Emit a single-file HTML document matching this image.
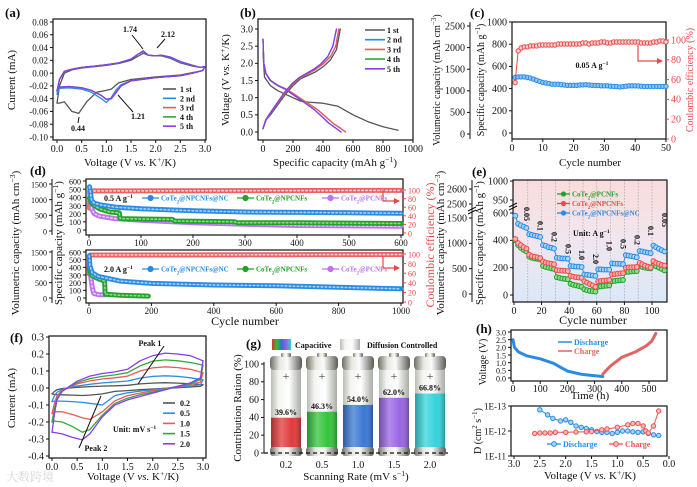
<!DOCTYPE html>
<html><head><meta charset="utf-8">
<style>
body{margin:0;background:#fff}
svg{display:block;font-family:"Liberation Serif","Noto Serif CJK SC",serif}
</style></head>
<body>
<svg id="fig" width="697" height="487" viewBox="0 0 697 487" xmlns="http://www.w3.org/2000/svg">
<defs>
<linearGradient id="eBg" x1="0" y1="0" x2="0" y2="1"><stop offset="0" stop-color="#f9dcdc"/><stop offset="0.5" stop-color="#f1e6ef"/><stop offset="1" stop-color="#dbe8f7"/></linearGradient>
<linearGradient id="glass" x1="0" y1="0" x2="1" y2="0"><stop offset="0" stop-color="#b9bcb5"/><stop offset="0.25" stop-color="#f4f4f2"/><stop offset="0.6" stop-color="#ffffff"/><stop offset="1" stop-color="#a9aca6"/></linearGradient>
<linearGradient id="metal" x1="0" y1="0" x2="1" y2="0"><stop offset="0" stop-color="#6e6e66"/><stop offset="0.3" stop-color="#e8e8e0"/><stop offset="0.55" stop-color="#fafafa"/><stop offset="1" stop-color="#5c5c55"/></linearGradient>
<linearGradient id="rainbow" x1="0" y1="0" x2="1" y2="0"><stop offset="0" stop-color="#e03030"/><stop offset="0.25" stop-color="#30c030"/><stop offset="0.5" stop-color="#3070d0"/><stop offset="0.75" stop-color="#9a60e0"/><stop offset="1" stop-color="#30d0d8"/></linearGradient>
<linearGradient id="shade" x1="0" y1="0" x2="1" y2="0"><stop offset="0" stop-color="#000" stop-opacity="0.25"/><stop offset="0.35" stop-color="#fff" stop-opacity="0.25"/><stop offset="0.7" stop-color="#fff" stop-opacity="0"/><stop offset="1" stop-color="#000" stop-opacity="0.3"/></linearGradient>
<marker id="arr" viewBox="0 0 6 6" refX="5" refY="3" markerWidth="5" markerHeight="5" orient="auto"><path d="M0 0L6 3L0 6z" fill="#e84848"/></marker>
</defs>
</svg>
<script>
// ---------- data ----------
const aUpV=[0,0.05,0.15,0.3,0.5,0.75,1.0,1.25,1.5,1.65,1.75,1.85,2.0,2.12,2.3,2.5,2.75,2.9,3.0];
const aLowV=[3.0,2.95,2.75,2.5,2.0,1.5,1.3,1.2,1.1,1.0,0.9,0.7,0.5,0.25,0.05,0];
const a1LowV=[3.0,2.95,2.5,2.0,1.5,1.25,1.1,1.0,0.8,0.6,0.44,0.3,0.15,0.05,0];
const a1Up=[-0.047,-0.02,0.0,0.005,0.008,0.01,0.012,0.015,0.02,0.027,0.031,0.028,0.027,0.027,0.023,0.016,0.011,0.009,0.01];
const a1Low=[0.01,0.004,-0.003,-0.006,-0.01,-0.015,-0.025,-0.027,-0.03,-0.045,-0.063,-0.06,-0.045,-0.047,-0.047];
const a2Up=[-0.033,-0.01,0.003,0.006,0.009,0.011,0.013,0.016,0.022,0.03,0.035,0.028,0.027,0.028,0.024,0.017,0.012,0.009,0.01];
const a2Low=[0.01,0.004,0.0,-0.004,-0.007,-0.012,-0.018,-0.026,-0.038,-0.046,-0.04,-0.03,-0.025,-0.023,-0.024,-0.033];
const a3Up=[-0.028,-0.01,0.003,0.006,0.009,0.011,0.013,0.016,0.022,0.03,0.034,0.028,0.027,0.028,0.025,0.018,0.012,0.009,0.01];
const a3Low=[0.01,0.004,0.0,-0.004,-0.007,-0.012,-0.02,-0.03,-0.04,-0.041,-0.035,-0.027,-0.023,-0.021,-0.022,-0.027];
const aNames=['1 st','2 nd','3 rd','4 th','5 th'];
const aColors=['#555555','#2a8be6','#e85a5a','#33a83a','#8a3cf0'];
const bDisVolt=[2.7,2.0,1.7,1.5,1.35,1.25,1.1,0.95,0.8,0.65,0.45,0.25,0.1,0.0];
const b2DisCap=[0,5,20,52,104,156,208,260,312,364,416,468,520,550];
const b5DisCap=[0,5,19,48,98,148,196,245,294,343,392,441,490,520];
const bChVolt=[0.1,0.35,0.55,0.85,1.15,1.4,1.58,1.7,1.82,1.98,2.2,2.5,3.0];
const b2ChCap=[0,20,50,100,150,200,250,300,350,400,450,485,505];
const b5ChCap=[0,18,47,95,143,192,240,288,336,385,432,465,490];
const b1DisCap=[0,10,50,100,200,250,300,400,500,600,700,800,900];
const b1DisVolt=[2.3,1.6,1.35,1.2,1.0,0.9,0.87,0.84,0.75,0.5,0.3,0.15,0.05];
const b1ChCap=[0,20,50,100,150,200,250,300,350,400,450,490,515];
const b1ChVolt=[0.1,0.35,0.5,0.8,1.1,1.35,1.55,1.65,1.75,1.9,2.1,2.4,3.0];
const cCycles=[1,2,3,4,5,6,7,8,9,10,11,12,13,14,15,16,17,18,19,20,21,22,23,24,25,26,27,28,29,30,31,32,33,34,35,36,37,38,39,40,41,42,43,44,45,46,47,48,49,50];
const cCap=[500,505,505,505,500,495,485,475,465,455,450,445,440,440,440,435,432,430,430,430,430,432,433,435,432,430,428,428,425,425,425,422,420,418,415,418,422,425,425,425,423,422,420,420,420,420,420,420,420,420];
const cCE=[57,89,92,93,93,94,94,94,95,95,95,95,95,95,96,96,96,96,96,96,96,96,97,97,96,97,97,97,98,98,97,97,98,98,98,98,98,98,98,98,98,97,97,97,97,98,98,99,99,98];
const d1BlueCyc=[1,2,5,10,20,50,100,200,300,400,500,600];
const d1Blue=[530,500,360,330,310,280,260,235,220,215,210,205];
const d1GreenCyc=[1,5,10,20,40,58,60,100,160,165,280,285,400,600];
const d1Green=[390,330,300,260,220,210,140,135,130,110,100,90,90,80];
const d1PurpleCyc=[1,5,10,20,50,100,200,300,400,600];
const d1Purple=[470,260,200,170,140,120,90,70,55,45];
const d1CECyc=[1,2,5,600];
const d1CE=[58,93,98,99];
const d2BlueCyc=[1,3,10,30,100,200,400,600,800,1000];
const d2Blue=[550,420,330,280,220,190,170,160,140,120];
const d2GreenCyc=[1,5,10,30,50,52,100,190];
const d2Green=[390,320,290,250,220,50,35,25];
const d2PurpleCyc=[1,10,15,30,50];
const d2Purple=[420,150,60,45,40];
const d2CECyc=[1,2,5,1000];
const d2CE=[58,93,98,99];
const eCyc=[1,3,5,7,9,11,13,15,17,19,21,23,25,27,29,31,33,35,37,39,41,43,45,47,49,51,53,55,57,59,61,63,65,67,69,71,73,75,77,79,81,83,85,87,89,91,93,95,97,99,101,103,105,107,109];
const eBlue=[580,520,510,500,490, 445,440,435,430,425, 365,360,350,345,340, 272,270,268,267,265, 212,210,208,207,205, 150,148,145,143,140, 188,187,186,186,185, 232,230,229,228,226, 292,288,284,280,276, 322,318,314,310,306, 362,350,338,328,318];
const eRed=[410,380,365,350,340, 295,285,280,275,270, 245,238,232,228,225, 182,180,178,177,175, 140,135,130,128,125, 100,90,80,70,60, 100,103,105,107,110, 150,153,156,158,160, 200,202,203,204,205, 235,225,215,208,200, 248,235,228,220,215];
const eGreen=[400,365,345,330,320, 280,272,268,264,260, 212,205,200,195,190, 130,125,120,118,115, 82,75,70,65,60, 42,35,30,28,25, 60,63,66,68,70, 100,103,106,108,110, 168,170,172,174,175, 210,205,200,197,195, 222,210,200,190,180];
const eRates=['0.05','0.1','0.2','0.5','1.0','2.0','1.0','0.5','0.2','0.1','0.05'];
const fUpV=[0,0.05,0.1,0.2,0.35,0.5,0.75,1.0,1.25,1.5,1.75,2.0,2.25,2.5,2.75,3.0];
const fLowV=[3.0,2.95,2.75,2.5,2.25,2.0,1.75,1.5,1.25,1.0,0.75,0.6,0.4,0.2,0.05,0.0];
const fRates=['0.2','0.5','1.0','1.5','2.0'];
const fColors=['#555555','#2a8be6','#e85a5a','#33a83a','#8a3cf0'];
const fUp=[
 [-0.035,-0.02,-0.01,-0.003,0.0,0.004,0.008,0.011,0.013,0.016,0.024,0.029,0.031,0.029,0.025,0.02],
 [-0.08,-0.045,-0.025,-0.008,0.003,0.012,0.022,0.03,0.035,0.041,0.058,0.068,0.072,0.068,0.06,0.048],
 [-0.15,-0.09,-0.045,-0.014,0.006,0.024,0.042,0.053,0.06,0.07,0.1,0.118,0.125,0.12,0.11,0.09],
 [-0.2,-0.12,-0.06,-0.018,0.008,0.032,0.055,0.068,0.077,0.09,0.13,0.158,0.165,0.16,0.15,0.135],
 [-0.26,-0.15,-0.07,-0.02,0.01,0.04,0.07,0.085,0.095,0.11,0.16,0.19,0.205,0.2,0.19,0.16]];
const fLow=[
 [0.02,0.01,0.006,0.002,-0.002,-0.006,-0.01,-0.015,-0.02,-0.035,-0.042,-0.044,-0.042,-0.04,-0.038,-0.035],
 [0.048,0.02,0.012,0.005,-0.002,-0.01,-0.018,-0.028,-0.045,-0.1,-0.09,-0.085,-0.08,-0.077,-0.077,-0.08],
 [0.09,0.035,0.02,0.008,-0.004,-0.016,-0.03,-0.045,-0.075,-0.14,-0.185,-0.175,-0.155,-0.14,-0.14,-0.15],
 [0.135,0.05,0.025,0.01,-0.006,-0.024,-0.04,-0.06,-0.09,-0.16,-0.245,-0.26,-0.225,-0.2,-0.195,-0.2],
 [0.16,0.06,0.03,0.01,-0.01,-0.03,-0.05,-0.07,-0.1,-0.17,-0.27,-0.305,-0.29,-0.27,-0.262,-0.26]];
const gRates=['0.2','0.5','1.0','1.5','2.0'];
const gCap=[39.6,46.3,54.0,62.0,66.8];
const gColors=['#e23a3a','#34c43a','#3a78d4','#9a64e4','#34d4dc'];
const hDisT=[0,5,20,50,100,150,175,200,250,300,330];
const hDisV=[2.5,2.0,1.7,1.45,1.25,0.95,0.7,0.45,0.25,0.15,0.1];
const hChT=[330,340,360,400,450,490,510,525];
const hChV=[0.25,0.45,0.8,1.35,1.7,2.1,2.4,2.9];
const hDisVolt=[2.5,2.35,2.25,2.1,2.0,1.9,1.8,1.7,1.6,1.5,1.4,1.3,1.2,1.1,1.0,0.9,0.8,0.7,0.6,0.5,0.4,0.3,0.2];
const hDisLogD=[-12.85,-12.65,-12.5,-12.4,-12.45,-12.35,-12.2,-12.15,-12.1,-12.05,-11.98,-11.95,-11.95,-11.9,-11.95,-12.0,-12.0,-11.97,-11.95,-11.97,-11.9,-11.85,-11.82];
const hChVolt=[2.6,2.5,2.4,2.3,2.2,2.0,1.8,1.6,1.5,1.3,1.2,1.0,0.8,0.7,0.6,0.5,0.45,0.4,0.3,0.2];
const hChLogD=[-11.9,-11.92,-11.92,-11.92,-11.95,-11.95,-11.96,-11.97,-11.98,-12.05,-12.08,-12.15,-12.25,-12.3,-12.3,-12.2,-12.0,-11.92,-12.2,-12.8];

// ---------- helpers ----------
const NS='http://www.w3.org/2000/svg';
const fig=document.getElementById('fig');
function mk(tag,attrs,name,parent){
  const e=document.createElementNS(NS,tag);
  for(const k in attrs) e.setAttribute(k,attrs[k]);
  
  
  (parent||fig).appendChild(e);return e;}
function T(x,y,html,name,o){o=o||{};
  const a={x:x,y:y,'font-size':o.fs||10,'text-anchor':o.a||'middle',fill:o.c||'#111'};
  if(o.b)a['font-weight']='bold';
  if(o.r)a.transform='rotate(-90 '+x+' '+y+')';
  if(o.rot)a.transform='rotate('+o.rot+' '+x+' '+y+')';
  const e=mk('text',a,name);e.innerHTML=html;return e;}
function sc(d0,d1,r0,r1){return v=>r0+(v-d0)/(d1-d0)*(r1-r0);}
function box(x0,y0,x1,y1,name){mk('rect',{x:x0,y:y0,width:x1-x0,height:y1-y0,fill:'none',stroke:'#111','stroke-width':1.2},name);}
function path(xs,ys,sx,sy,color,w,name,extra){let d='';
  for(let i=0;i<xs.length;i++) d+=(i?'L':'M')+sx(xs[i]).toFixed(1)+' '+sy(ys[i]).toFixed(1);
  const a={d:d,fill:'none',stroke:color,'stroke-width':w,'stroke-linejoin':'round','stroke-linecap':'round'};
  if(extra)Object.assign(a,extra);
  return mk('path',a,name);}
function dots(xs,ys,sx,sy,color,r,name,fill){
  for(let i=0;i<xs.length;i++) mk('circle',{cx:sx(xs[i]).toFixed(1),cy:sy(ys[i]).toFixed(1),r:r,fill:fill||'none',stroke:color,'stroke-width':1},name);}
function yTicks(vals,labels,sy,x,name,o){o=o||{};const dir=o.right?1:-1;
  vals.forEach((v,i)=>{const y=sy(v);
    mk('line',{x1:x,x2:x+dir*3,y1:y,y2:y,stroke:o.c||'#111','stroke-width':1},name+'-tick');
    T(x+dir*5,y+3.3,labels[i],name+'-label',{fs:o.fs||10,a:o.right?'start':'end',c:o.c||'#111'});});}
function xTicks(vals,labels,sx,y,name,o){o=o||{};
  vals.forEach((v,i)=>{const x=sx(v);
    mk('line',{x1:x,x2:x,y1:y,y2:y+3,stroke:'#111','stroke-width':1},name+'-tick');
    T(x,y+(o.dy||12),labels[i],name+'-label',{fs:o.fs||10});});}
const sup=s=>'<tspan baseline-shift="super" font-size="70%">'+s+'</tspan>';
const sub=s=>'<tspan baseline-shift="sub" font-size="70%">'+s+'</tspan>';
const co=r=>'CoTe'+sub('2')+r;

// ---------- (a) ----------
(function(){
 const sx=sc(0,3,57,205), sy=sc(-0.10,0.08,137,22);
 T(5,17,'(a)','panel-a-label',{fs:13,b:1,a:'start'});
 box(53,19,206,140,'panel-a-plot-area');
 const yv=[-0.10,-0.08,-0.06,-0.04,-0.02,0,0.02,0.04,0.06,0.08];
 yTicks(yv,yv.map(v=>v.toFixed(2)),sy,53,'a-y-tick',{fs:9});
 const xv=[0,0.5,1,1.5,2,2.5,3];
 xTicks(xv,xv.map(v=>v.toFixed(1)),sx,140,'a-x-tick',{fs:10});
 T(15,80,'Current (mA)','a-y-axis-title',{fs:11,r:1});
 T(130,166,'Voltage (V <tspan font-style="italic">vs.</tspan> K'+sup('+')+'/K)','a-x-axis-title',{fs:11});
 const up=[a1Up,a2Up,a3Up,a3Up,a3Up], low=[a1Low,a2Low,a3Low,a3Low,a3Low];
 for(let k=0;k<5;k++){
  path(aUpV,up[k],sx,sy,aColors[k],1.3,'a-cv-anodic-'+(k+1));
  path(k===0?a1LowV:aLowV,low[k],sx,sy,aColors[k],1.3,'a-cv-cathodic-'+(k+1));
  mk('line',{x1:163,x2:176,y1:89+k*9.3,y2:89+k*9.3,stroke:aColors[k],'stroke-width':1.6},'a-legend-swatch');
  T(180,92+k*9.3,aNames[k],'a-legend-entry',{fs:8,b:1,a:'start'});
 }
 T(130,32,'1.74','a-peak-label',{fs:8,b:1});
 mk('line',{x1:132,x2:143,y1:35,y2:49,stroke:'#111'},'a-peak-pointer');
 T(168,37,'2.12','a-peak-label',{fs:8,b:1});
 mk('line',{x1:165,x2:157,y1:39,y2:48,stroke:'#111'},'a-peak-pointer');
 T(138,119,'1.21','a-peak-label',{fs:8,b:1});
 mk('line',{x1:133,x2:118,y1:112,y2:95,stroke:'#111'},'a-peak-pointer');
 T(78,131,'0.44','a-peak-label',{fs:8,b:1});
 mk('line',{x1:78,x2:79,y1:123,y2:117,stroke:'#111'},'a-peak-pointer');
})();

// ---------- (b) ----------
(function(){
 const sx=sc(0,1000,263,413), sy=sc(0,3,132,29);
 T(240,17,'(b)','panel-b-label',{fs:13,b:1,a:'start'});
 box(258,19,413,140,'panel-b-plot-area');
 const yv=[0,0.5,1,1.5,2,2.5,3];
 yTicks(yv,yv.map(v=>v.toFixed(1)),sy,258,'b-y-tick',{fs:10});
 const xv=[0,200,400,600,800,1000];
 xTicks(xv,xv.map(String),sx,140,'b-x-tick',{fs:10});
 T(229,80,'Voltage (V <tspan font-style="italic">vs.</tspan> K'+sup('+')+'/K)','b-y-axis-title',{fs:11,r:1});
 T(335,166,'Specific capacity (mAh g'+sup('−1')+')','b-x-axis-title',{fs:11});
 path(b1DisCap,b1DisVolt,sx,sy,aColors[0],1.3,'b-discharge-1');
 path(b1ChCap,b1ChVolt,sx,sy,aColors[0],1.3,'b-charge-1');
 const dc=[b2DisCap,b2DisCap,b5DisCap,b5DisCap], cc=[b2ChCap,b2ChCap,b5ChCap,b5ChCap];
 for(let k=1;k<5;k++){
  path(dc[k-1],bDisVolt,sx,sy,aColors[k],1.3,'b-discharge-'+(k+1));
  path(cc[k-1],bChVolt,sx,sy,aColors[k],1.3,'b-charge-'+(k+1));
 }
 for(let k=0;k<5;k++){
  mk('line',{x1:365,x2:385,y1:30+k*9.7,y2:30+k*9.7,stroke:aColors[k],'stroke-width':1.6},'b-legend-swatch');
  T(387,33+k*9.7,aNames[k],'b-legend-entry',{fs:8,b:1,a:'start'});
 }
})();

// ---------- (c) ----------
(function(){
 const sx=sc(0,50,512,666), sy=sc(0,1000,133,22), sce=sc(0,100,139,40), sv=sc(0,2500,134,26);
 T(470,17,'(c)','panel-c-label',{fs:13,b:1,a:'start'});
 box(512,22,666,139,'panel-c-plot-area');
 const yv=[0,200,400,600,800,1000];
 yTicks(yv,yv.map(String),sy,512,'c-y-tick',{fs:10});
 const vv=[0,500,1000,1500,2000,2500];
 mk('line',{x1:470,x2:470,y1:22,y2:139,stroke:'#111'},'c-volumetric-axis');
 yTicks(vv,vv.map(String),sv,470,'c-vol-tick',{fs:10});
 const cev=[0,20,40,60,80,100];
 yTicks(cev,cev.map(String),sce,666,'c-ce-tick',{fs:10,right:1,c:'#e84848'});
 const xv=[0,10,20,30,40,50];
 xTicks(xv,xv.map(String),sx,139,'c-x-tick',{fs:10});
 T(440,80,'Volumetric capacity (mAh cm'+sup('−3')+')','c-vol-axis-title',{fs:10,r:1});
 T(484,80,'Specific capacity (mAh g'+sup('−1')+')','c-y-axis-title',{fs:10,r:1});
 T(693,80,'Coulombic efficiency (%)','c-ce-axis-title',{fs:10,r:1,c:'#e84848'});
 T(590,166,'Cycle number','c-x-axis-title',{fs:11});
 path(cCycles,cCap,sx,sy,'#2a8be6',1,'c-capacity-line');
 dots(cCycles,cCap,sx,sy,'#2a8be6',2.2,'c-capacity-point','#8cc4f4');
 path(cCycles,cCE,sx,sce,'#e84848',1,'c-ce-line');
 dots(cCycles,cCE,sx,sce,'#e84848',2.2,'c-ce-point','#fbd0d0');
 mk('path',{d:'M638 45L638 61L662 61',fill:'none',stroke:'#e84848','stroke-width':1.2,'marker-end':'url(#arr)'},'c-ce-arrow');
 T(592,68,'0.05 A g'+sup('−1'),'c-current-label',{fs:8,b:1});
})();

// ---------- (d) ----------
(function(){
 T(30,175,'(d)','panel-d-label',{fs:13,b:1,a:'start'});
 const panels=[
  {y0:179,y1:235,sx:sc(0,600,89,401),sy:sc(0,600,230,181),sce:sc(0,100,233,190),sv:sc(0,1500,231,184),
   xv:[0,100,200,300,400,500,600],blue:[d1BlueCyc,d1Blue],green:[d1GreenCyc,d1Green],purple:[d1PurpleCyc,d1Purple],ce:[d1CECyc,d1CE],cur:'0.5 A g',ly:198,ay:[190,201],tag:'d-top'},
  {y0:250,y1:303,sx:sc(0,1000,89,401),sy:sc(0,600,298,252),sce:sc(0,100,302,254),sv:sc(0,1500,298,252),
   xv:[0,200,400,600,800,1000],blue:[d2BlueCyc,d2Blue],green:[d2GreenCyc,d2Green],purple:[d2PurpleCyc,d2Purple],ce:[d2CECyc,d2CE],cur:'2.0 A g',ly:269,ay:[256,268],tag:'d-bottom'}];
 panels.forEach(p=>{
  box(86,p.y0,403,p.y1,p.tag+'-plot-area');
  const yv=[0,100,200,300,400,500,600];
  yTicks(yv,yv.map(String),p.sy,86,p.tag+'-y-tick',{fs:8});
  const vv=[0,500,1000,1500];
  mk('line',{x1:52,x2:52,y1:p.y0,y2:p.y1,stroke:'#111'},p.tag+'-vol-axis');
  yTicks(vv,vv.map(String),p.sv,52,p.tag+'-vol-tick',{fs:8});
  const cev=[0,20,40,60,80,100];
  yTicks(cev,cev.map(String),p.sce,403,p.tag+'-ce-tick',{fs:8,right:1,c:'#e84848'});
  xTicks(p.xv,p.xv.map(String),p.sx,p.y1,p.tag+'-x-tick',{fs:9,dy:11});
  const series=[[p.ce,'#f06060','#fbd0d0','ce',p.sce],[p.purple,'#c070f0','#ead0fb','purple',p.sy],[p.green,'#22a22a','#8fdc8f','green',p.sy],[p.blue,'#2a8be6','#a6d2f8','blue',p.sy]];
  series.forEach(s=>{
   path(s[0][0],s[0][1],p.sx,s[4],s[1],5,p.tag+'-'+s[3]+'-series');
   path(s[0][0],s[0][1],p.sx,s[4],s[2],1.6,p.tag+'-'+s[3]+'-series-highlight',{'stroke-dasharray':'1.5 2.5'});
  });
  T(104,p.ly+3,p.cur+sup('−1'),p.tag+'-current-label',{fs:8,b:1,a:'start'});
  const leg=[[142,'#2a8be6',co('@NPCNFs@NC')],[237,'#22a22a',co('@NPCNFs')],[322,'#c070f0',co('@PCNFs')]];
  leg.forEach(l=>{
   mk('line',{x1:l[0],x2:l[0]+17,y1:p.ly,y2:p.ly,stroke:l[1],'stroke-width':1.3},p.tag+'-legend-swatch');
   mk('circle',{cx:l[0]+8.5,cy:p.ly,r:2.6,fill:l[1],stroke:l[1]},p.tag+'-legend-marker');
   T(l[0]+19,p.ly+2.5,l[2],p.tag+'-legend-entry',{fs:7,b:1,a:'start',c:l[1]});
  });
  mk('path',{d:'M383 '+p.ay[0]+'L383 '+p.ay[1]+'L399 '+p.ay[1],fill:'none',stroke:'#e84848','stroke-width':1.2,'marker-end':'url(#arr)'},p.tag+'-ce-arrow');
 });
 T(19,243,'Volumetric capacity (mAh cm'+sup('−3')+')','d-vol-axis-title',{fs:11,r:1});
 T(62,243,'Specific capacity (mAh g'+sup('−1')+')','d-y-axis-title',{fs:11,r:1});
 T(434,245,'Coulombic efficiency (%)','d-ce-axis-title',{fs:12,r:1,c:'#e84848'});
 T(245,325,'Cycle number','d-x-axis-title',{fs:12});
})();

// ---------- (e) ----------
(function(){
 const sx=sc(0,100,514,652), sy=sc(0,600,295,213), sy2=sc(950,1000,200,181), sv=sc(0,1500,294,218);
 T(472,176,'(e)','panel-e-label',{fs:13,b:1,a:'start'});
 mk('rect',{x:513,y:180,width:154,height:122,fill:'url(#eBg)'},'e-plot-background');
 for(let c=10;c<=100;c+=10) mk('line',{x1:sx(c),x2:sx(c),y1:180,y2:302,stroke:'#9a9a9a','stroke-width':0.6,'stroke-dasharray':'1.5 1.5'},'e-rate-divider');
 box(513,180,667,302,'panel-e-plot-area');
 const yv=[0,200,400,600];
 yTicks(yv,yv.map(String),sy,513,'e-y-tick',{fs:10});
 yTicks([950,1000],['950','1000'],sy2,513,'e-y-tick-upper',{fs:10});
 mk('path',{d:'M509 207L517 203M509 210L517 206',stroke:'#111','stroke-width':1},'e-axis-break');
 mk('line',{x1:472,x2:472,y1:180,y2:302,stroke:'#111'},'e-vol-axis');
 const vv=[0,500,1000,1500];
 yTicks(vv,vv.map(String),sv,472,'e-vol-tick',{fs:10});
 yTicks([2500,2600],['2500','2600'],sc(2500,2600,204,189),472,'e-vol-tick-upper',{fs:10});
 mk('path',{d:'M468 211L476 207M468 214L476 210',stroke:'#111','stroke-width':1},'e-vol-axis-break');
 const xv=[0,20,40,60,80,100];
 xTicks(xv,xv.map(String),sx,302,'e-x-tick',{fs:10});
 T(444,243,'Volumetric capacity (mAh cm'+sup('−3')+')','e-vol-axis-title',{fs:11,r:1});
 T(483,243,'Specific capacity (mAh g'+sup('−1')+')','e-y-axis-title',{fs:11,r:1});
 T(593,324,'Cycle number','e-x-axis-title',{fs:12});
 [[eGreen,'#22a22a','#8fdc8f','green'],[eRed,'#ec4a4a','#fbb0b0','red'],[eBlue,'#2a8be6','#a6d2f8','blue']].forEach(s=>{
  path(eCyc,s[0],sx,sy,s[1],1,'e-'+s[3]+'-line');
  dots(eCyc,s[0],sx,sy,s[1],2.4,'e-'+s[3]+'-point',s[2]);
 });
 const lg=[['#22a22a',co('@PCNFs')],['#ec4a4a',co('@NPCNFs')],['#2a8be6',co('@NPCNFs@NC')]];
 lg.forEach((l,i)=>{const y=194+i*9.5;
  mk('line',{x1:557,x2:570,y1:y,y2:y,stroke:l[0],'stroke-width':1.3},'e-legend-swatch');
  mk('circle',{cx:563.5,cy:y,r:2.6,fill:l[0]},'e-legend-marker');
  T(572,y+2.5,l[1],'e-legend-entry',{fs:7,b:1,a:'start',c:l[0]});
 });
 T(573,236,'Unit: A g'+sup('−1'),'e-unit-label',{fs:8,b:1,a:'start'});
 eRates.forEach((r,i)=>{
  const c=5+i*10; const yy=[214,226,237,249,255,259,246,244,240,231,220][i];
  T(sx(c)+3,yy,r,'e-rate-label',{fs:8,b:1,rot:90});
 });
})();

// ---------- (f) ----------
(function(){
 const sx=sc(0,3,52,203), sy=sc(-0.4,0.3,456,337);
 T(10,342,'(f)','panel-f-label',{fs:13,b:1,a:'start'});
 box(49,336,206,458,'panel-f-plot-area');
 const yv=[-0.4,-0.3,-0.2,-0.1,0,0.1,0.2,0.3];
 yTicks(yv,yv.map(v=>v.toFixed(1)),sy,49,'f-y-tick',{fs:10});
 const xv=[0,0.5,1,1.5,2,2.5,3];
 xTicks(xv,xv.map(v=>v.toFixed(1)),sx,458,'f-x-tick',{fs:10});
 T(15,398,'Current (mA)','f-y-axis-title',{fs:11,r:1});
 T(133,480,'Voltage (V <tspan font-style="italic">vs.</tspan> K'+sup('+')+'/K)','f-x-axis-title',{fs:11});
 for(let k=0;k<5;k++){
  path(fUpV,fUp[k],sx,sy,fColors[k],1.3,'f-cv-anodic-'+fRates[k]);
  path(fLowV,fLow[k],sx,sy,fColors[k],1.3,'f-cv-cathodic-'+fRates[k]);
  mk('line',{x1:163,x2:175,y1:403+k*10.2,y2:403+k*10.2,stroke:fColors[k],'stroke-width':1.6},'f-legend-swatch');
  T(180,406+k*10.2,fRates[k],'f-legend-entry',{fs:8,b:1,a:'start'});
 }
 T(113,432,'Unit: mV s'+sup('−1'),'f-unit-label',{fs:8,b:1,a:'start'});
 mk('line',{x1:138,x2:164,y1:384,y2:346,stroke:'#111'},'f-peak1-pointer');
 T(150,346,'Peak 1','f-peak1-label',{fs:8,b:1});
 mk('line',{x1:101,x2:79,y1:396,y2:448,stroke:'#111'},'f-peak2-pointer');
 T(96,451,'Peak 2','f-peak2-label',{fs:8,b:1});
 T(6,481,'大数跨境','watermark',{fs:12,a:'start',c:'#d8d8d8'});
})();

// ---------- (g) ----------
(function(){
 const sy=sc(0,100,453,364);
 const cx=[286,322,358,394,430];
 T(246,348,'(g)','panel-g-label',{fs:13,b:1,a:'start'});
 mk('rect',{x:272,y:339,width:19,height:11,fill:'url(#rainbow)'},'g-legend-capacitive-swatch');
 T(295,348,'Capacitive','g-legend-capacitive',{fs:8,b:1,a:'start'});
 mk('rect',{x:340,y:339,width:20,height:11,fill:'url(#glass)'},'g-legend-diffusion-swatch');
 T(367,348,'Diffusion Controlled','g-legend-diffusion',{fs:8,b:1,a:'start'});
 mk('line',{x1:264,x2:264,y1:362,y2:453,stroke:'#111'},'g-y-axis');
 const yv=[0,20,40,60,80,100];
 yTicks(yv,yv.map(String),sy,264,'g-y-tick',{fs:10});
 T(241,408,'Contribution Ration (%)','g-y-axis-title',{fs:11,r:1});
 gRates.forEach((r,i)=>{
  const x=cx[i]-15;
  mk('rect',{x:x,y:sy(100),width:30,height:sy(0)-sy(100),fill:'url(#glass)'},'g-battery-body');
  mk('rect',{x:x,y:sy(gCap[i]),width:30,height:sy(0)-sy(gCap[i]),fill:gColors[i]},'g-capacitive-bar-'+r);
  mk('rect',{x:x,y:sy(gCap[i]),width:30,height:sy(0)-sy(gCap[i]),fill:'url(#shade)'},'g-bar-shading');
  mk('rect',{x:x-1,y:sy(100)-8,width:32,height:14,rx:4,fill:'url(#metal)'},'g-battery-top-cap');
  mk('rect',{x:x+10,y:sy(100)-11,width:10,height:4,rx:1.5,fill:'url(#metal)'},'g-battery-terminal');
  mk('rect',{x:x-1,y:sy(0)-6,width:32,height:9,rx:3,fill:'url(#metal)'},'g-battery-bottom-cap');
  T(cx[i],sy(100)+16,'+','g-plus-sign',{fs:12,c:'#444'});
  T(cx[i],sy(gCap[i])-3,gCap[i].toFixed(1)+'%','g-value-label',{fs:8,b:1});
  T(cx[i],468,r,'g-x-tick-label',{fs:10});
 });
 mk('line',{x1:264,x2:448,y1:453,y2:453,stroke:'#111','stroke-width':1.2,'stroke-dasharray':'4 3'},'g-x-axis');
 T(356,480,'Scanning Rate (mV s'+sup('−1')+')','g-x-axis-title',{fs:11});
})();

// ---------- (h) ----------
(function(){
 const sx=sc(0,500,513,649), sy=sc(0,3,378,332);
 T(476,333,'(h)','panel-h-label',{fs:13,b:1,a:'start'});
 box(511,330,667,381,'h-top-plot-area');
 const yv=[0,0.5,1,1.5,2,2.5,3];
 yTicks(yv,yv.map(v=>v.toFixed(1)),sy,511,'h-top-y-tick',{fs:8});
 const xv=[0,100,200,300,400,500];
 xTicks(xv,xv.map(String),sx,381,'h-top-x-tick',{fs:10,dy:11});
 T(486,362,'Voltage (V)','h-top-y-axis-title',{fs:10,r:1});
 T(590,399,'Time (h)','h-top-x-axis-title',{fs:11});
 path(hDisT,hDisV,sx,sy,'#2a8be6',3,'h-discharge-curve');
 path(hChT,hChV,sx,sy,'#e06464',3,'h-charge-curve');
 mk('line',{x1:558,x2:572,y1:342,y2:342,stroke:'#2a8be6','stroke-width':1.5},'h-legend-swatch');
 T(574,345,'Discharge','h-legend-discharge',{fs:8,b:1,a:'start',c:'#2a8be6'});
 mk('line',{x1:558,x2:572,y1:351,y2:351,stroke:'#e06464','stroke-width':1.5},'h-legend-swatch');
 T(574,354,'Charge','h-legend-charge',{fs:8,b:1,a:'start',c:'#e06464'});

 const sx2=sc(3,0,514,669), sy2=sc(-13,-11,406,456);
 box(511,406,667,456,'h-bottom-plot-area');
 yTicks([-13,-12,-11],['1E-13','1E-12','1E-11'],sy2,511,'h-bottom-y-tick',{fs:9});
 const xv2=[3,2.5,2,1.5,1,0.5,0];
 xTicks(xv2,xv2.map(v=>v.toFixed(1)),sx2,456,'h-bottom-x-tick',{fs:10,dy:11});
 T(481,431,'D (cm'+sup('2')+' s'+sup('−1')+')','h-bottom-y-axis-title',{fs:10,r:1});
 T(590,479,'Voltage (V <tspan font-style="italic">vs.</tspan> K'+sup('+')+'/K)','h-bottom-x-axis-title',{fs:11});
 path(hDisVolt,hDisLogD,sx2,sy2,'#2a8be6',1,'h-discharge-diffusion-line');
 dots(hDisVolt,hDisLogD,sx2,sy2,'#2a8be6',2.2,'h-discharge-diffusion-point','#a6d2f8');
 path(hChVolt,hChLogD,sx2,sy2,'#ec5050',1,'h-charge-diffusion-line');
 dots(hChVolt,hChLogD,sx2,sy2,'#ec5050',2.2,'h-charge-diffusion-point','#fbb8b8');
 mk('line',{x1:547,x2:561,y1:444,y2:444,stroke:'#2a8be6','stroke-width':1.3},'h-bottom-legend-swatch');
 mk('circle',{cx:554,cy:444,r:2.4,fill:'#a6d2f8',stroke:'#2a8be6'},'h-bottom-legend-marker');
 T(563,447,'Discharge','h-bottom-legend-discharge',{fs:8,b:1,a:'start',c:'#2a8be6'});
 mk('line',{x1:609,x2:623,y1:444,y2:444,stroke:'#ec5050','stroke-width':1.3},'h-bottom-legend-swatch');
 mk('circle',{cx:616,cy:444,r:2.4,fill:'#fbb8b8',stroke:'#ec5050'},'h-bottom-legend-marker');
 T(625,447,'Charge','h-bottom-legend-charge',{fs:8,b:1,a:'start',c:'#ec5050'});
})();
</script>
</body></html>
